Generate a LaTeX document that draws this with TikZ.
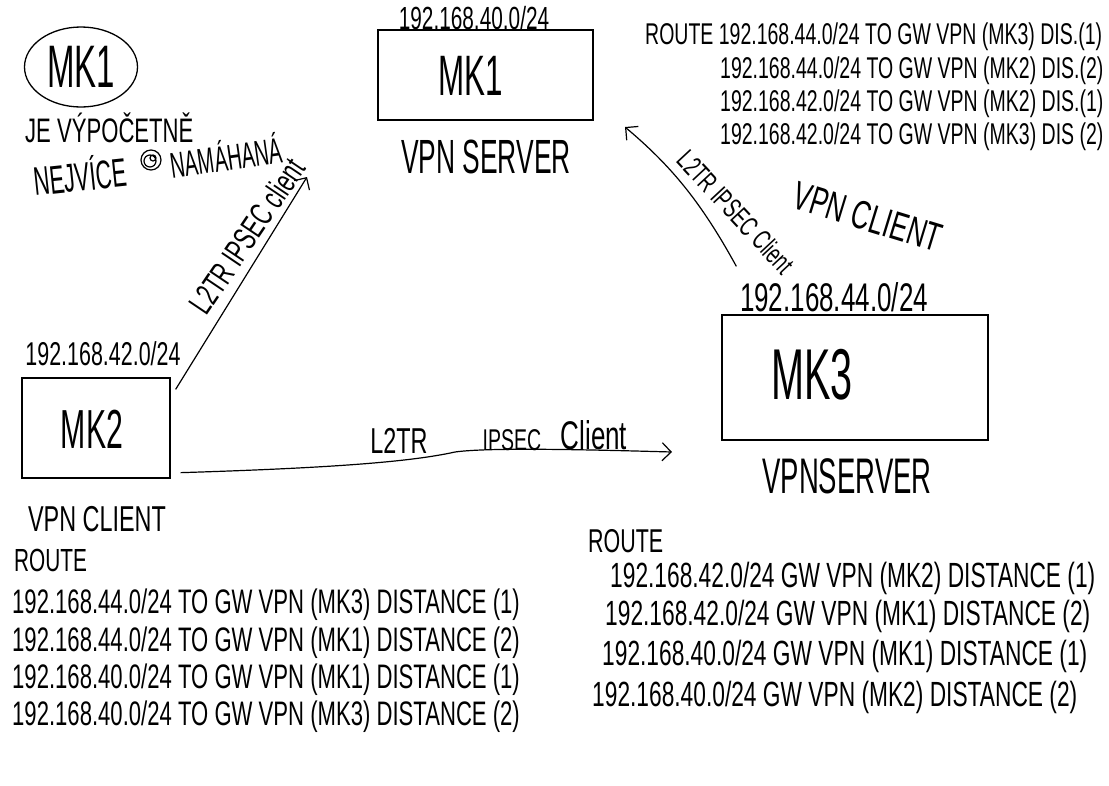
\documentclass[tikz,border=0pt]{standalone}
\usepackage{fontspec}
\setmainfont[FakeStretch=0.65]{Liberation Sans}
\newfontfamily\narrowfont[FakeStretch=0.55]{Liberation Sans}
\usetikzlibrary{shapes.geometric,arrows.meta,calc}
\newcommand\fsz[1]{\fontsize{#1}{#1}\selectfont}
\begin{document}
\begin{tikzpicture}[x=1pt,y=-1pt,
  every node/.style={inner sep=0pt},
  t/.style={font=\fsz{#1}},
  n/.style={font=\narrowfont\fsz{#1}},
  box/.style={draw, line width=1.3pt},
  arr/.style={line width=1.2pt, -{Straight Barb[length=9pt,width=18pt]}},
]
\useasboundingbox[fill=white] (0,0) rectangle (1109,785);

% note about MK1
\node[ellipse, draw, line width=1.3pt, minimum width=113pt, minimum height=80pt, n=60] (note) at (81,67) {MK1};
\node[t=34, anchor=west] (je) at (25,128) {JE VÝPOČETNĚ};
\node[n=40, rotate=6] (nejvice) at (80,174) {NEJVÍCE};
\draw[line width=1.2pt] (151,160) circle (10) (150,161) circle (6) (153,158) circle (3);
\node[n=36, rotate=8] (namahana) at (226,155) {NAMÁHANÁ};

% MK1 server
\node[box, minimum width=215pt, minimum height=90pt] (mk1) at (485.5,75) {};
\node[n=57] (mk1name) at (471,76) {MK1};
\node[t=32] (net40) at (474,18) {192.168.40.0/24};
\node[n=48] (srv1) at (486,157) {VPN SERVER};

% MK2 client
\node[box, minimum width=148pt, minimum height=100pt] (mk2) at (96,428) {};
\node[n=55] (mk2name) at (92,429) {MK2};
\node[t=33] (net42) at (103,354) {192.168.42.0/24};
\node[t=36] (cli2) at (97,519) {VPN CLIENT};

% MK3 server
\node[box, minimum width=266pt, minimum height=125pt] (mk3) at (855,377.5) {};
\node[n=72] (mk3name) at (812,375) {MK3};
\node[t=40] (net44) at (834,297) {192.168.44.0/24};
\node[n=50] (srv3) at (847,476) {VPNSERVER};

% top right routes (MK1)
\node[t=30, anchor=west] (r1) at (645,37) {ROUTE 192.168.44.0/24 TO GW VPN (MK3) DIS.(1)};
\node[t=30, anchor=west] (r2) at (720,71) {192.168.44.0/24 TO GW VPN (MK2) DIS.(2)};
\node[t=30, anchor=west] (r3) at (720,104) {192.168.42.0/24 TO GW VPN (MK2) DIS.(1)};
\node[t=30, anchor=west] (r4) at (720,137) {192.168.42.0/24 TO GW VPN (MK3) DIS (2)};

% bottom left routes (MK2)
\node[t=32, anchor=west] (l0) at (14,560) {ROUTE};
\node[t=34, anchor=west] (l1) at (12,605) {192.168.44.0/24 TO GW VPN (MK3) DISTANCE (1)};
\node[t=34, anchor=west] (l2) at (12,643) {192.168.44.0/24 TO GW VPN (MK1) DISTANCE (2)};
\node[t=34, anchor=west] (l3) at (12,680) {192.168.40.0/24 TO GW VPN (MK1) DISTANCE (1)};
\node[t=34, anchor=west] (l4) at (12,717) {192.168.40.0/24 TO GW VPN (MK3) DISTANCE (2)};

% bottom right routes (MK3)
\node[t=33, anchor=west] (q0) at (588,541) {ROUTE};
\node[t=35, anchor=west] (q1) at (610,578) {192.168.42.0/24 GW VPN (MK2) DISTANCE (1)};
\node[t=35, anchor=west] (q2) at (605,616) {192.168.42.0/24 GW VPN (MK1) DISTANCE (2)};
\node[t=35, anchor=west] (q3) at (602,656) {192.168.40.0/24 GW VPN (MK1) DISTANCE (1)};
\node[t=35, anchor=west] (q4) at (592,697) {192.168.40.0/24 GW VPN (MK2) DISTANCE (2)};

% MK2 -> MK1
\coordinate (a1s) at ($(mk2.north east)+(5,12)$);
\coordinate (a1e) at (307,177);
\draw[arr] (a1s) -- (a1e);
\node[t=33, rotate=56] (lab1) at (247,236) {L2TR IPSEC client};

% MK2 -> MK3
\coordinate (a2s) at ($(mk2.south east)+(10,-6)$);
\coordinate (a2e) at (672,452);
\draw[arr] (a2s) .. controls (330,468) and (410,462) .. (455,452) .. controls (490,447) and (600,450) .. (a2e);
\node[t=36] (lab2a) at (399,441) {L2TR};
\node[t=30] (lab2b) at (512,440) {IPSEC};
\node[t=40] (lab2c) at (594,435) {Client};

% MK3 -> MK1
\coordinate (a3s) at ($(mk3.north west)+(15,-48)$);
\coordinate (a3e) at (625,127);
\draw[arr] (a3s) .. controls (700,200) and (670,165) .. (a3e);
\node[t=28, rotate=-47] (lab3) at (736,212) {L2TR IPSEC Client};
\node[t=40, rotate=-17] (vpnc3) at (868,217) {VPN CLIENT};
\end{tikzpicture}
\end{document}
